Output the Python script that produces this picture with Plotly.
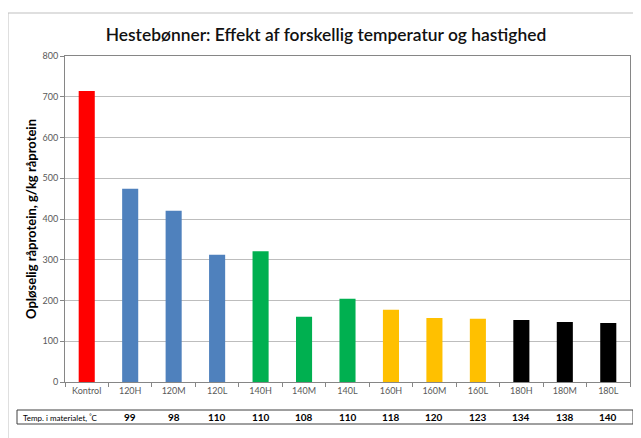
import plotly.graph_objects as go

categories = ["Kontrol", "120H", "120M", "120L", "140H", "140M", "140L",
              "160H", "160M", "160L", "180H", "180M", "180L"]
values = [714, 474, 420, 312, 321, 160, 204, 177, 157, 155, 152, 147, 145]
bar_colors = ["#FF0000", "#4F81BD", "#4F81BD", "#4F81BD", "#00B050", "#00B050", "#00B050",
              "#FFC000", "#FFC000", "#FFC000", "#000000", "#000000", "#000000"]
temps = ["", "99", "98", "110", "110", "108", "110", "118", "120", "123", "134", "138", "140"]
y_ticks = [0, 100, 200, 300, 400, 500, 600, 700, 800]

W, H = 641, 438
OFF = 8  # page body margin offset
# plot area in screen pixels: x 65..630, y 56..382
SX0, SX1, SY0, SY1 = 65, 630, 56, 382
L = SX0 - OFF
T = SY0 - OFF
R = W - (SX1 - OFF)
B = H - (SY1 - OFF)
pw, ph = SX1 - SX0, SY1 - SY0

def px(x):
    return (x - SX0) / pw

def py(y):
    return (SY1 - y) / ph

fig = go.Figure(go.Bar(x=categories, y=values, marker=dict(color=bar_colors, line=dict(width=0)),
                       width=0.37))

fig.update_layout(
    width=W, height=H,
    margin=dict(l=L, r=R, t=T, b=B, autoexpand=False),
    paper_bgcolor="white", plot_bgcolor="white",
    showlegend=False,
    title=dict(text="Hestebønner: Effekt af forskellig temperatur og hastighed",
               x=px(326), xref="paper", xanchor="center", y=1 - (35 - OFF) / H, yanchor="middle",
               font=dict(family="Lato", size=17.4, color="#111111", weight=600)),
    font=dict(family="Lato"),
)

fig.update_yaxes(range=[0, 800], tickvals=y_ticks, showgrid=True, gridcolor="#BDBDBD", gridwidth=1,
                 showline=True, linecolor="#868686", linewidth=1, mirror=True,
                 ticks="outside", ticklen=4, tickcolor="#868686", automargin=False,
                 tickfont=dict(size=9, color="#595959"), zeroline=False)
fig.update_xaxes(showline=True, linecolor="#868686", linewidth=1, mirror=True,
                 ticks="outside", ticklen=4, tickcolor="#868686", tickson="boundaries",
                 automargin=False,
                 tickfont=dict(size=9, color="#595959"), showgrid=False)

# y-axis title
fig.add_annotation(xref="paper", yref="paper", x=px(31), y=py(219), xanchor="center", yanchor="middle",
                   text="<b>Opløselig råprotein, g/kg råprotein</b>", textangle=-90, showarrow=False,
                   font=dict(size=13, color="#000000"))

# outer chart frame
fig.add_shape(type="line", xref="paper", yref="paper", x0=px(8), x1=px(W + 20), y0=py(13), y1=py(13),
              line=dict(color="#BFBFBF", width=1))
fig.add_shape(type="line", xref="paper", yref="paper", x0=px(8), x1=px(8), y0=py(13), y1=py(H + 20),
              line=dict(color="#BFBFBF", width=1))

# table box
fig.add_shape(type="rect", xref="paper", yref="paper", x0=px(17), x1=px(633), y0=py(410), y1=py(424),
              line=dict(color="#404040", width=1), fillcolor="rgba(0,0,0,0)")
fig.add_annotation(xref="paper", yref="paper", x=px(21), y=py(417), xanchor="left", yanchor="middle",
                   text="Temp. i materialet, <sup>°</sup>C", showarrow=False,
                   font=dict(size=8, color="#000000"))
for c, t in zip(categories, temps):
    if t:
        fig.add_annotation(xref="x", yref="paper", x=c, y=py(417), yanchor="middle",
                           text="<b>" + t + "</b>", showarrow=False,
                           font=dict(size=10, color="#000000"))

fig.write_html("out.html")
